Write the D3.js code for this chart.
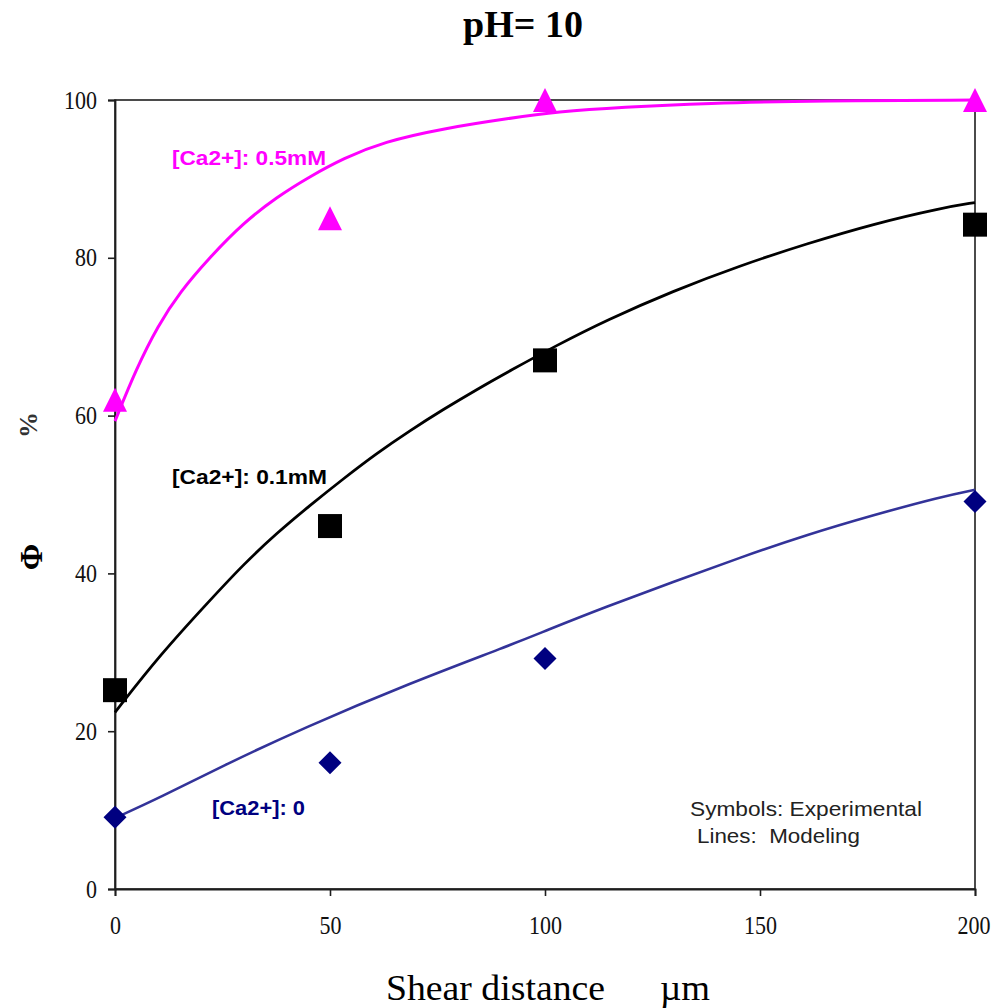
<!DOCTYPE html>
<html>
<head>
<meta charset="utf-8">
<script src="https://cdn.jsdelivr.net/npm/d3@7"></script>
<style>
  html, body { margin: 0; padding: 0; background: #fff; }
  svg { display: block; }
</style>
</head>
<body>
<svg id="chart" width="994" height="1008"></svg>
<script>
// Measured fraction Φ (%) against shear distance (µm) at three calcium levels
const shearDistance = [0, 50, 100, 200];
const expCa05 = [62, 85, 100, 100];
const expCa01 = [25.2, 46, 67, 84.2];
const expCa0  = [9.1, 16, 29.2, 49.1];

// Model curves: [shear distance, Φ]
const modelCa05 = [[0, 59.3], [5, 66.0], [10, 71.4], [15, 75.6], [22.1, 80.1], [29.8, 84.4],
  [37.6, 87.7], [45.3, 90.3], [53.1, 92.6], [62.4, 94.7], [76.4, 96.4], [91.9, 97.7],
  [102.7, 98.5], [118, 99.1], [137.6, 99.6], [164, 99.9], [200, 100]];
const modelCa01 = [[0, 22.4], [10.5, 29.7], [22.1, 36.6], [29.8, 41.1], [37.6, 45.1], [45.3, 48.6],
  [53.1, 52.0], [60.8, 55.2], [68.6, 58.1], [76.4, 60.8], [84.1, 63.3], [91.9, 65.7],
  [102.7, 68.9], [114.3, 72.1], [129.8, 75.8], [145.3, 79.0], [160.9, 81.8], [176.4, 84.3],
  [192, 86.3], [200, 87.0]];
const modelCa0 = [[0, 9.0], [10.5, 11.6], [25, 15.6], [43.8, 20.4], [68.6, 26.1], [91.9, 30.9],
  [100, 32.7], [114.3, 35.8], [129.8, 38.9], [145.3, 42.0], [160.9, 44.9], [176.4, 47.4],
  [192, 49.7], [200, 50.6]];

const xTicks = [0, 50, 100, 150, 200];
const yTicks = [0, 20, 40, 60, 80, 100];

const seriesLabels = ["[Ca2+]: 0.5mM", "[Ca2+]: 0.1mM", "[Ca2+]: 0"];

const svg = d3.select("#chart");
const x = d3.scaleLinear().domain([0, 200]).range([115, 975]);
const y = d3.scaleLinear().domain([0, 100]).range([889, 100]);

const axisColor = "#1e1e1e";
const serif = "'Liberation Serif', 'DejaVu Serif', serif";
const sans = "'Liberation Sans', Arial, sans-serif";

// Plot frame (top and right edges)
svg.append("rect")
  .attr("x", x(0)).attr("y", y(100))
  .attr("width", x(200) - x(0)).attr("height", y(0) - y(100))
  .attr("fill", "none").attr("stroke", axisColor).attr("stroke-width", 1.6);

// Axes
const gy = svg.append("g").attr("transform", `translate(${x(0)},0)`)
  .call(d3.axisLeft(y).tickValues(yTicks).tickSize(7).tickPadding(11));
const gx = svg.append("g").attr("transform", `translate(0,${y(0)})`)
  .call(d3.axisBottom(x).tickValues(xTicks).tickSize(7).tickPadding(20));
[gx, gy].forEach(g => {
  g.select(".domain").attr("stroke", axisColor).attr("stroke-width", 1.8);
  g.selectAll(".tick line").attr("stroke", axisColor).attr("stroke-width", 1.6);
  // narrow, tall digits
  g.selectAll(".tick text").attr("fill", "#111")
    .style("font-family", serif).style("font-size", "25px")
    .attr("textLength", function () { return this.textContent.length * 11; })
    .attr("lengthAdjust", "spacingAndGlyphs");
});
// keep the last x label inside the page
gx.selectAll(".tick text").filter(d => d === 200)
  .attr("text-anchor", "end").attr("x", 15);

// Model lines
const line = d3.line().x(d => x(d[0])).y(d => y(d[1])).curve(d3.curveBasis);
const models = [
  { data: modelCa0,  color: "#333399", width: 2.6 },
  { data: modelCa01, color: "#000000", width: 2.8 },
  { data: modelCa05, color: "#ff00ff", width: 3 }
];
models.forEach(m => {
  svg.append("path").datum(m.data).attr("d", line)
    .attr("fill", "none").attr("stroke", m.color).attr("stroke-width", m.width)
    .attr("stroke-linejoin", "round");
});

// Marker shapes
const tallTriangle = {
  draw(ctx, size) {
    const h = Math.sqrt(size);
    ctx.moveTo(0, -h / 2);
    ctx.lineTo(h / 2, h / 2);
    ctx.lineTo(-h / 2, h / 2);
    ctx.closePath();
  }
};
const diamond = {
  draw(ctx, size) {
    const r = Math.sqrt(size) / 2;
    ctx.moveTo(0, -r);
    ctx.lineTo(r, 0);
    ctx.lineTo(0, r);
    ctx.lineTo(-r, 0);
    ctx.closePath();
  }
};

const markerSets = [
  { values: expCa0,  type: diamond,          size: 23 * 23, color: "#000080" },
  { values: expCa01, type: d3.symbolSquare,  size: 24 * 24, color: "#000000" },
  { values: expCa05, type: tallTriangle,     size: 24 * 24, color: "#ff00ff" }
];
markerSets.forEach(s => {
  const sym = d3.symbol().type(s.type).size(s.size);
  svg.append("g").selectAll("path")
    .data(shearDistance.map((d, i) => [d, s.values[i]]))
    .join("path")
    .attr("transform", d => `translate(${x(d[0])},${y(d[1])})`)
    .attr("d", sym)
    .attr("fill", s.color);
});

// Series labels
const labelSpecs = [
  { text: seriesLabels[0], x: 172, y: 165, len: 154, color: "#ff00ff" },
  { text: seriesLabels[1], x: 172, y: 484, len: 155, color: "#000000" },
  { text: seriesLabels[2], x: 212, y: 815, len: 93,  color: "#000080" }
];
labelSpecs.forEach(l => {
  svg.append("text").attr("x", l.x).attr("y", l.y)
    .attr("textLength", l.len).attr("lengthAdjust", "spacingAndGlyphs")
    .attr("fill", l.color).style("font-family", sans).style("font-weight", "bold")
    .style("font-size", "21px").text(l.text);
});

// Key note
svg.append("text").attr("x", 690).attr("y", 816)
  .attr("textLength", 232).attr("lengthAdjust", "spacingAndGlyphs")
  .attr("fill", "#222").style("font-family", sans).style("font-size", "21px")
  .text("Symbols: Experimental");
svg.append("text").attr("x", 697).attr("y", 843)
  .attr("textLength", 163).attr("lengthAdjust", "spacingAndGlyphs")
  .attr("fill", "#222").style("font-family", sans).style("font-size", "21px")
  .style("white-space", "pre").text("Lines:  Modeling");

// Title
svg.append("text").attr("x", 463).attr("y", 37)
  .attr("textLength", 120).attr("lengthAdjust", "spacingAndGlyphs")
  .attr("fill", "#000").style("font-family", serif).style("font-weight", "bold")
  .style("font-size", "38px").text("pH= 10");

// X axis title
svg.append("text").attr("x", 386).attr("y", 1000)
  .attr("textLength", 219).attr("lengthAdjust", "spacingAndGlyphs")
  .attr("fill", "#000").style("font-family", serif).style("font-size", "36px")
  .text("Shear distance");
svg.append("text").attr("x", 660).attr("y", 1000)
  .attr("textLength", 50).attr("lengthAdjust", "spacingAndGlyphs")
  .attr("fill", "#000").style("font-family", serif).style("font-size", "36px")
  .text("µm");

// Y axis title
svg.append("text").attr("transform", "translate(42,557) rotate(-90)")
  .attr("text-anchor", "middle").attr("fill", "#000")
  .style("font-family", serif).style("font-weight", "bold").style("font-size", "32px")
  .text("Φ");
svg.append("text").attr("transform", "translate(37,425) rotate(-90)")
  .attr("text-anchor", "middle").attr("fill", "#333")
  .style("font-family", serif).style("font-weight", "bold").style("font-size", "26px")
  .text("%");
</script>
</body>
</html>
